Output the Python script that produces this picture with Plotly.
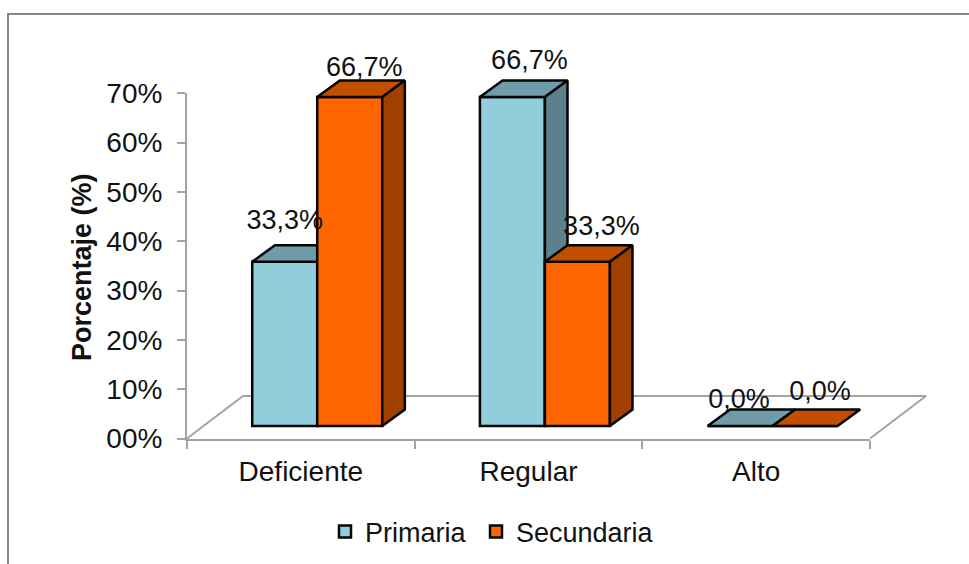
import plotly.graph_objects as go

categories = ["Deficiente", "Regular", "Alto"]
primaria = [33.3, 66.7, 0.0]
secundaria = [66.7, 33.3, 0.0]
y_ticks = [0, 10, 20, 30, 40, 50, 60, 70]
y_tick_labels = ["00%", "10%", "20%", "30%", "40%", "50%", "60%", "70%"]

W, H = 969, 564
LEFT, RIGHT, BOTTOM, TOP = 187, 870, 438.5, 93.3
PX_X = (RIGHT - LEFT) / 3
PX_Y = (BOTTOM - TOP) / 70

# the 3D box overflows the value axes, so its marks live on a larger subplot of equal scale
DRAW_L, DRAW_R, DRAW_B, DRAW_T = 150, 960, 460, 40
draw_x_range = [(DRAW_L - LEFT) / PX_X, (DRAW_R - LEFT) / PX_X]
draw_y_range = [(BOTTOM - DRAW_B) / PX_Y, (BOTTOM - DRAW_T) / PX_Y]

# oblique projection offsets, in axis units
FRONT_DX, FRONT_DY = 16.4 / PX_X, 12.5 / PX_Y
DEPTH_DX, DEPTH_DY = 22.6 / PX_X, 16.5 / PX_Y
FLOOR_DX, FLOOR_DY = 56.0 / PX_X, 42.5 / PX_Y
BAR_W = 65.0 / PX_X

AXIS = "#A3A3A3"
EDGE = "#050505"
TEXT = "#111111"
FONT = "Liberation Sans"
FS = 27
LW = 2.5

positions = [i + 0.5 for i in range(len(categories))]
fig = go.Figure()

# keeps the labelled axes alive; they carry no marks of their own
fig.add_trace(go.Scatter(
    x=positions, y=[0] * len(positions), mode="lines", line=dict(width=0),
    showlegend=False, hoverinfo="skip", xaxis="x", yaxis="y",
))

# floor of the 3D box, lowest layer
fig.add_trace(go.Scatter(
    x=[0, FLOOR_DX, 3 + FLOOR_DX, 3],
    y=[0, FLOOR_DY, FLOOR_DY, 0],
    mode="lines", line=dict(color=AXIS, width=2),
    showlegend=False, hoverinfo="skip",
    xaxis="x2", yaxis="y2",
))


def add_series(name, values, side, colour, top_colour, side_colour, ax, legend):
    xa, ya = "x" + ax, "y" + ax
    x0s = [p + FRONT_DX + (side - 1) * BAR_W for p in positions]
    fig.add_trace(go.Bar(
        name=name, x=[x + BAR_W / 2 for x in x0s], y=values, base=[FRONT_DY] * len(values),
        width=BAR_W, marker=dict(color=colour, line=dict(color=EDGE, width=LW)),
        xaxis=xa, yaxis=ya, hoverinfo="y", legend=legend,
    ))
    for x0, v in zip(x0s, values):
        x1 = x0 + BAR_W
        y0 = FRONT_DY
        y1 = FRONT_DY + v
        fig.add_trace(go.Scatter(
            x=[x0, x1, x1 + DEPTH_DX, x0 + DEPTH_DX, x0],
            y=[y1, y1, y1 + DEPTH_DY, y1 + DEPTH_DY, y1],
            mode="lines", fill="toself", fillcolor=top_colour,
            line=dict(color=EDGE, width=LW), showlegend=False,
            hoverinfo="skip", xaxis=xa, yaxis=ya,
        ))
        if v > 0:
            fig.add_trace(go.Scatter(
                x=[x1, x1 + DEPTH_DX, x1 + DEPTH_DX, x1, x1],
                y=[y0, y0 + DEPTH_DY, y1 + DEPTH_DY, y1, y0],
                mode="lines", fill="toself", fillcolor=side_colour,
                line=dict(color=EDGE, width=LW), showlegend=False,
                hoverinfo="skip", xaxis=xa, yaxis=ya,
            ))


add_series("Primaria", primaria, 0, "#92CDDC", "#6F9CA8", "#5C818B", "3", "legend")
add_series("Secundaria", secundaria, 1, "#FF6600", "#C24E00", "#A04000", "4", "legend2")

# value labels sit above the bars, nudged per bar (pixels from the front top centre)
primaria_nudge = [(0, 40), (17, 35), (-1, 25)]
secundaria_nudge = [(14.5, 28), (24, 34), (15, 33)]


def fmt(v):
    return f"{v:.1f}%".replace(".", ",")


for values, side, nudge in ((primaria, 0, primaria_nudge), (secundaria, 1, secundaria_nudge)):
    fig.add_trace(go.Scatter(
        x=[p + FRONT_DX + (side - 0.5) * BAR_W + n[0] / PX_X for p, n in zip(positions, nudge)],
        y=[FRONT_DY + v + n[1] / PX_Y for v, n in zip(values, nudge)],
        text=[fmt(v) for v in values],
        mode="text", textposition="middle center",
        textfont=dict(family=FONT, size=FS, color=TEXT),
        showlegend=False, hoverinfo="skip", cliponaxis=False,
        xaxis="x4", yaxis="y4",
    ))

overlay_x = dict(range=draw_x_range, visible=False, overlaying="x2", anchor="y2")
overlay_y = dict(range=draw_y_range, visible=False, overlaying="y2", anchor="x2")
legend_style = dict(
    orientation="h", y=1 - 532 / H, xanchor="left", yanchor="middle",
    font=dict(family=FONT, size=FS, color=TEXT), bgcolor="rgba(0,0,0,0)",
)

fig.update_layout(
    width=W, height=H, margin=dict(l=0, r=0, t=0, b=0, autoexpand=False),
    paper_bgcolor="white", plot_bgcolor="rgba(0,0,0,0)",
    font=dict(family=FONT, size=FS, color=TEXT),
    xaxis=dict(
        domain=[LEFT / W, RIGHT / W], range=[0, 3], anchor="y",
        tickvals=positions, ticktext=categories, ticks="", showgrid=False, zeroline=False,
        showline=True, linecolor=AXIS, linewidth=2, ticklabelstandoff=7,
        tickfont=dict(family=FONT, size=28, color=TEXT),
        minor=dict(tickvals=[0, 1, 2, 3], ticks="outside", ticklen=8, tickwidth=2, tickcolor=AXIS, showgrid=False),
    ),
    yaxis=dict(
        domain=[1 - BOTTOM / H, 1 - TOP / H], range=[0, 70], anchor="x",
        tickvals=y_ticks, ticktext=y_tick_labels, ticks="outside", ticklen=8, tickwidth=2,
        tickcolor=AXIS, showgrid=False, zeroline=False, showline=True, linecolor=AXIS,
        linewidth=2, ticklabelstandoff=9,
        tickfont=dict(family=FONT, size=28, color=TEXT),
    ),
    xaxis2=dict(domain=[DRAW_L / W, DRAW_R / W], range=draw_x_range, visible=False, anchor="y2"),
    yaxis2=dict(domain=[1 - DRAW_B / H, 1 - DRAW_T / H], range=draw_y_range, visible=False, anchor="x2"),
    xaxis3=overlay_x, yaxis3=overlay_y, xaxis4=overlay_x, yaxis4=overlay_y,
    barmode="overlay", showlegend=True,
    legend=dict(x=325 / W, **legend_style),
    legend2=dict(x=476 / W, **legend_style),
    annotations=[dict(
        text="<b>Porcentaje (%)</b>", x=82 / W, y=1 - 267 / H, xref="paper", yref="paper",
        xanchor="center", yanchor="middle",
        textangle=-90, showarrow=False, font=dict(family=FONT, size=FS, color=TEXT),
    )],
    shapes=[dict(
        type="path", xref="paper", yref="paper",
        path=f"M {8 / W} 0 L {8 / W} {1 - 14 / H} L 1 {1 - 14 / H}",
        line=dict(color="#868686", width=2),
    )],
)

fig.write_html("out.html")
